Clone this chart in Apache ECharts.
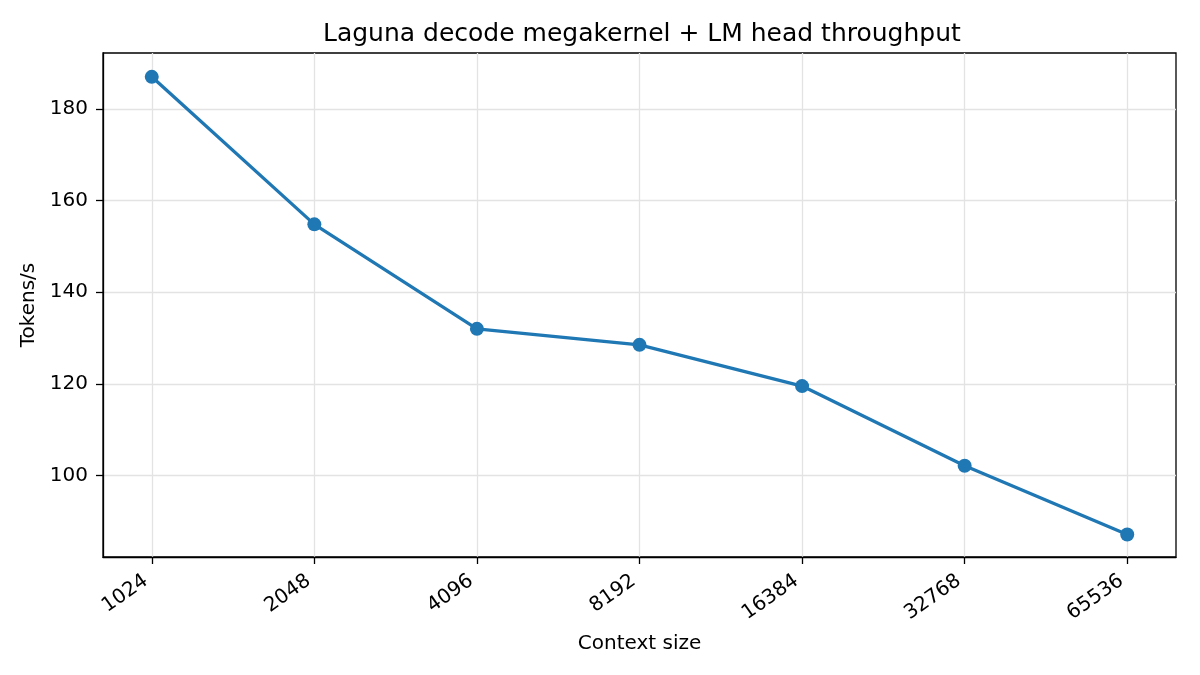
<!DOCTYPE html>
<html>
<head>
<meta charset="utf-8">
<title>Laguna decode throughput</title>
<script src="https://cdn.jsdelivr.net/npm/echarts@6/dist/echarts.min.js"></script>
<style>
  html, body { margin: 0; padding: 0; background: #fff; }
  #main { width: 1200px; height: 675px; }
</style>
</head>
<body>
<div id="main"></div>
<script>
// context sizes and measured throughput
var contextSizes = ['1024', '2048', '4096', '8192', '16384', '32768', '65536'];
var tokensPerSec = [187.0, 154.8, 132.0, 128.5, 119.5, 102.1, 87.1];
var yTicks = [100, 120, 140, 160, 180];

var myChart = echarts.init(document.getElementById('main'));

// x is the position of each context size (evenly spaced like a log2 axis)
var xTicks = contextSizes.map(function (c, i) { return i; });
var points = tokensPerSec.map(function (v, i) { return [i, v]; });

var font = 'DejaVu Sans';
var option = {
    backgroundColor: '#fff',
    animation: false,
    title: {
        text: 'Laguna decode megakernel + LM head throughput',
        left: 318,
        top: 17,
        textStyle: { fontFamily: font, fontSize: 25, fontWeight: 'normal', color: '#000' }
    },
    grid: {
        left: 103, right: 24, top: 53, bottom: 118,
        show: true, borderColor: '#000', borderWidth: 1.3, backgroundColor: 'transparent'
    },
    xAxis: {
        type: 'value',
        min: -0.3,
        max: 6.3,
        name: 'Context size',
        nameLocation: 'middle',
        nameGap: 77,
        nameTextStyle: { fontFamily: font, fontSize: 20, color: '#000' },
        axisLine: { show: true, onZero: false, lineStyle: { color: '#000', width: 1.3 } },
        axisTick: { show: true, length: 7, customValues: xTicks, lineStyle: { color: '#000', width: 1.3 } },
        axisLabel: {
            customValues: xTicks,
            rotate: 35,
            margin: 18,
            padding: [0, 7, 0, 0],
            fontFamily: font, fontSize: 20, color: '#000',
            formatter: function (v) { return contextSizes[Math.round(v)]; }
        },
        splitLine: { show: true, lineStyle: { color: '#e3e3e3', width: 1.3 } }
    },
    yAxis: {
        type: 'value',
        min: 82.2,
        max: 192.2,
        name: 'Tokens/s',
        nameLocation: 'middle',
        nameGap: 63,
        nameTextStyle: { fontFamily: font, fontSize: 20, color: '#000' },
        axisLine: { show: true, onZero: false, lineStyle: { color: '#000', width: 1.3 } },
        axisTick: { show: true, length: 7, customValues: yTicks, lineStyle: { color: '#000', width: 1.3 } },
        axisLabel: {
            customValues: yTicks,
            margin: 15,
            fontFamily: font, fontSize: 20, color: '#000'
        },
        splitLine: { show: true, lineStyle: { color: '#e3e3e3', width: 1.3 } }
    },
    series: [{
        type: 'line',
        data: points,
        symbol: 'circle',
        symbolSize: 14,
        lineStyle: { color: '#1f77b4', width: 3.3 },
        itemStyle: { color: '#1f77b4' }
    }]
};

myChart.setOption(option);
</script>
</body>
</html>
